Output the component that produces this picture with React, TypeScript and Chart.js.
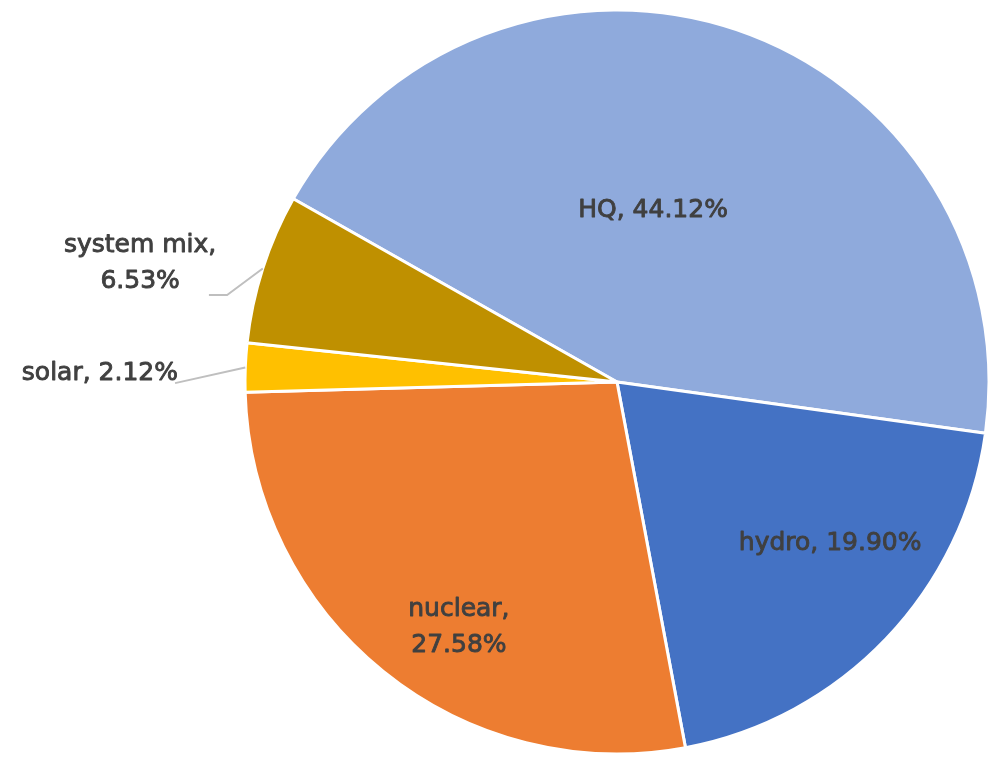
import React, { useEffect, useRef } from "react";
import { Chart, registerables } from "chart.js";

Chart.register(...registerables);

// ---- data ----
const categories = ["HQ", "hydro", "nuclear", "solar", "system mix"];
const shares = [44.12, 19.9, 27.58, 2.12, 6.53];
const sliceColors = ["#8FAADC", "#4472C4", "#ED7D31", "#FFC000", "#BF9000"];
// whether the data label wraps after the category name
const wrapLabel = [false, false, true, false, true];

// ---- label layout (relative to pie centre, in units of radius) ----
const labelPos = [
  [0.097, -0.462],
  [0.573, 0.433],
  [-0.425, 0.659],
  [-1.39, -0.022],
  [-1.282, -0.319],
];
// leader line points (relative) for outside labels; null = none
const leaderPts: (number[][] | null)[] = [
  null,
  null,
  null,
  [[-1.188, 0.003]],
  [
    [-1.097, -0.234],
    [-1.048, -0.234],
  ],
];

const FONT = '25px "DejaVu Sans"';
const LINE_H = 36;

const labelPlugin = {
  id: "excelLabels",
  afterDatasetsDraw(chart: any) {
    const ctx = chart.ctx as CanvasRenderingContext2D;
    const meta = chart.getDatasetMeta(0);
    ctx.save();
    meta.data.forEach((arc: any, i: number) => {
      const p = arc.getProps(["x", "y", "startAngle", "endAngle", "outerRadius"], true);
      const r = p.outerRadius;
      const mid = (p.startAngle + p.endAngle) / 2;
      const lp = leaderPts[i];
      if (lp) {
        ctx.strokeStyle = "#BFBFBF";
        ctx.lineWidth = 2;
        ctx.beginPath();
        lp.forEach((pt, k) => {
          const x = p.x + pt[0] * r;
          const y = p.y + pt[1] * r;
          if (k === 0) ctx.moveTo(x, y);
          else ctx.lineTo(x, y);
        });
        ctx.lineTo(p.x + Math.cos(mid) * r, p.y + Math.sin(mid) * r);
        ctx.stroke();
      }
      const value = shares[i].toFixed(2) + "%";
      const lines = wrapLabel[i]
        ? [categories[i] + ",", value]
        : [categories[i] + ", " + value];
      const cx = p.x + labelPos[i][0] * r;
      const cy = p.y + labelPos[i][1] * r;
      ctx.font = FONT;
      ctx.fillStyle = "#404040";
      ctx.strokeStyle = "#404040";
      ctx.lineWidth = 0.9;
      ctx.lineJoin = "round";
      ctx.textAlign = "center";
      ctx.textBaseline = "middle";
      const y0 = cy - ((lines.length - 1) * LINE_H) / 2;
      lines.forEach((t, k) => {
        ctx.fillText(t, cx, y0 + k * LINE_H);
        ctx.strokeText(t, cx, y0 + k * LINE_H);
      });
    });
    ctx.restore();
  },
};

export default function App() {
  const ref = useRef<HTMLCanvasElement | null>(null);
  useEffect(() => {
    if (!ref.current) return;
    const chart = new Chart(ref.current, {
      type: "pie",
      data: {
        labels: categories,
        datasets: [
          {
            data: shares,
            backgroundColor: sliceColors,
            borderColor: "#FFFFFF",
            borderWidth: 3,
          },
        ],
      },
      options: {
        responsive: false,
        animation: false,
        rotation: -60.5,
        layout: { padding: { left: 243.5, right: 3.5, top: 8.5, bottom: 1.5 } },
        plugins: {
          legend: { display: false },
          tooltip: { enabled: false },
        },
      },
      plugins: [labelPlugin],
    });
    return () => chart.destroy();
  }, []);
  return (
    <div style={{ position: "absolute", left: 0, top: 0, width: 994, height: 757, background: "#fff" }}>
      <canvas ref={ref} width={994} height={757} />
    </div>
  );
}
